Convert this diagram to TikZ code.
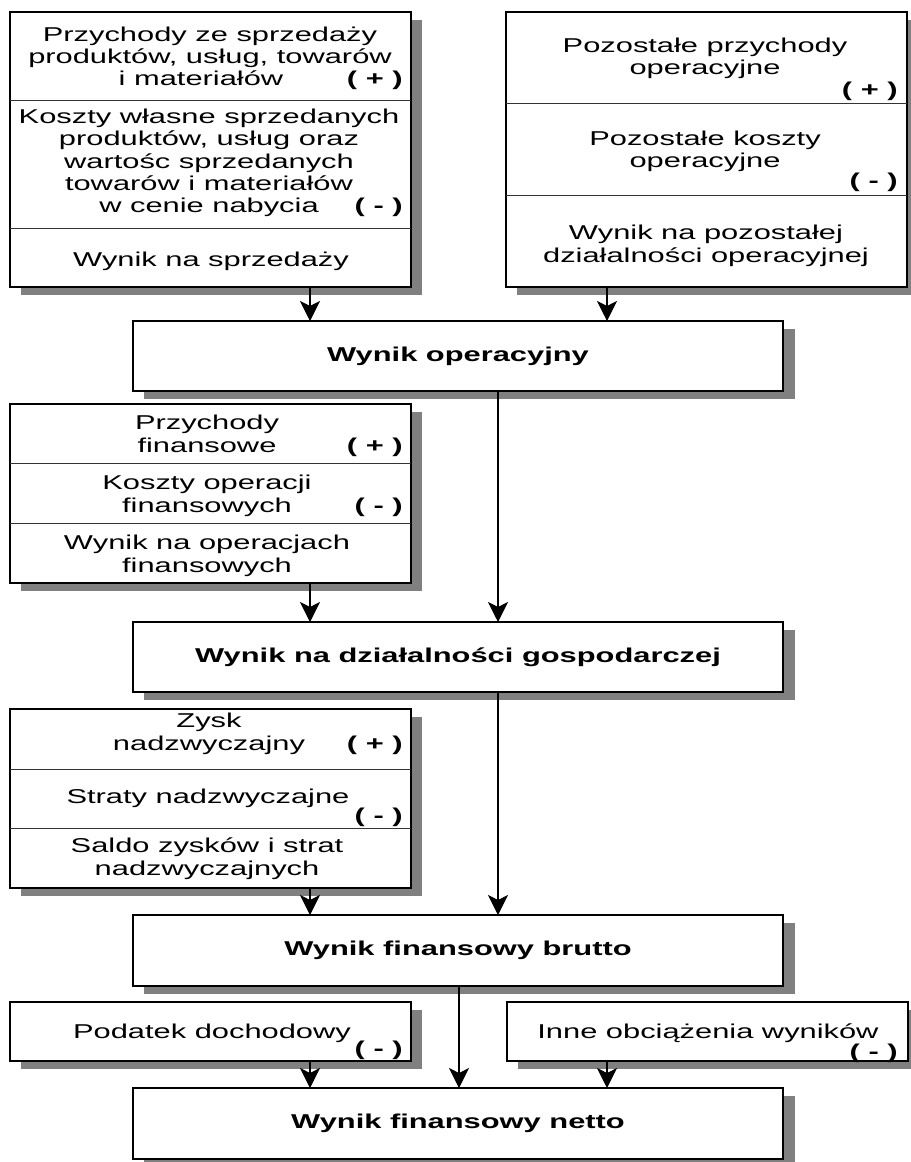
\documentclass[tikz,border=0pt]{standalone}
\usepackage{fontspec}
\setmainfont{Liberation Sans}[FakeStretch=1.54]
\usetikzlibrary{arrows.meta,shadows}
\newlength\pxl \setlength\pxl{0.02cm}
\definecolor{shade}{gray}{0.5}

\begin{document}
\begin{tikzpicture}[x=0.02cm,y=-0.02cm,
  panel/.style={draw=black, line width=0.6pt, fill=white, inner sep=0pt,
    outer sep=0pt, anchor=north west,
    drop shadow={shadow xshift=11\pxl, shadow yshift=-8\pxl, fill=shade, opacity=1}},
  result/.style={panel, line width=1.4pt,
    drop shadow={shadow xshift=12\pxl, shadow yshift=-8\pxl, fill=shade, opacity=1},
    font=\fontsize{11.4pt}{12.8pt}\selectfont\bfseries},
  divider/.style={line width=0.5pt, draw=black!80},
  % multi-line labels are anchored at the baseline of their last line
  txt/.style={font=\fontsize{11.4pt}{12.8pt}\selectfont, align=center, inner sep=0pt, anchor=base},
  sign/.style={font=\fontsize{11.4pt}{12.8pt}\selectfont\bfseries, inner sep=0pt, anchor=base east},
  arr/.style={line width=0.6pt, -{Stealth[length=0.4cm, width=0.4cm, inset=0.1cm]}}
]
\useasboundingbox (0,0) rectangle (911,1162);

% x positions of the vertical connectors
\coordinate (xl) at (310,0);
\coordinate (xr) at (607,0);
\coordinate (xm) at (498,0);
\coordinate (xn) at (459,0);

% --- sales result panel ---
\node[panel, minimum width=401\pxl, minimum height=275\pxl] (A) at (10,12) {};
\draw[divider] (A.west |- 0,100) -- (A.east |- 0,100);
\draw[divider] (A.west |- 0,228) -- (A.east |- 0,228);
\node[txt] (a1) at (210,86) {Przychody ze sprzedaży\\produktów, usług, towarów\\i materiałów\hspace*{0.9em}};
\node[sign] (a1s) at (403,86) {( + )};
\node[txt] (a2) at (209,213) {Koszty własne sprzedanych\\produktów, usług oraz\\wartośc sprzedanych\\towarów i materiałów\\w cenie nabycia};
\node[sign] (a2s) at (403,213) {( - )};
\node[txt] (a3) at (211,266) {Wynik na sprzedaży};

% --- other operating result panel ---
\node[panel, minimum width=401\pxl, minimum height=275\pxl] (B) at (506,12) {};
\draw[divider] (B.west |- 0,103) -- (B.east |- 0,103);
\draw[divider] (B.west |- 0,195) -- (B.east |- 0,195);
\node[txt] (b1) at (705,75) {Pozostałe przychody\\operacyjne};
\node[sign] (b1s) at (898,97) {( + )};
\node[txt] (b2) at (705,168) {Pozostałe koszty\\operacyjne};
\node[sign] (b2s) at (898,188) {( - )};
\node[txt] (b3) at (706,262) {Wynik na pozostałej\\działalności operacyjnej};

% --- operating result ---
\node[result, minimum width=650\pxl, minimum height=70\pxl] (op) at (133,321) {Wynik operacyjny};

% --- financial operations panel ---
\node[panel, minimum width=401\pxl, minimum height=179\pxl] (C) at (10,404) {};
\draw[divider] (C.west |- 0,463) -- (C.east |- 0,463);
\draw[divider] (C.west |- 0,523) -- (C.east |- 0,523);
\node[txt] (c1) at (207,452) {Przychody\\finansowe};
\node[sign] (c1s) at (403,452) {( + )};
\node[txt] (c2) at (207,512) {Koszty operacji\\finansowych};
\node[sign] (c2s) at (403,512) {( - )};
\node[txt] (c3) at (207,572) {Wynik na operacjach\\finansowych};

% --- business activity result ---
\node[result, minimum width=650\pxl, minimum height=70\pxl] (dz) at (133,622) {Wynik na działalności gospodarczej};

% --- extraordinary items panel ---
\node[panel, minimum width=401\pxl, minimum height=179\pxl] (D) at (10,709) {};
\draw[divider] (D.west |- 0,769) -- (D.east |- 0,769);
\draw[divider] (D.west |- 0,828) -- (D.east |- 0,828);
\node[txt] (d1) at (209,750) {Zysk\\nadzwyczajny};
\node[sign] (d1s) at (403,750) {( + )};
\node[txt] (d2) at (208,803) {Straty nadzwyczajne};
\node[sign] (d2s) at (403,822) {( - )};
\node[txt] (d3) at (207,875) {Saldo zysków i strat\\nadzwyczajnych};

% --- gross result ---
\node[result, minimum width=650\pxl, minimum height=71\pxl] (br) at (133,915) {Wynik finansowy brutto};

% --- deductions ---
\node[panel, minimum width=401\pxl, minimum height=59\pxl] (P) at (10,1002) {};
\node[txt] (p1) at (212,1038) {Podatek dochodowy};
\node[sign] (p1s) at (403,1055) {( - )};
\node[panel, minimum width=401\pxl, minimum height=59\pxl] (I) at (507,1002) {};
\node[txt] (i1) at (708,1038) {Inne obciążenia wyników};
\node[sign] (i1s) at (898,1058) {( - )};

% --- net result ---
\node[result, minimum width=650\pxl, minimum height=71\pxl] (nt) at (133,1088) {Wynik finansowy netto};

% --- connectors ---
\draw[arr] (A.south -| xl) -- (op.north -| xl);
\draw[arr] (B.south -| xr) -- (op.north -| xr);
\draw[arr] (op.south -| xm) -- (dz.north -| xm);
\draw[arr] (C.south -| xl) -- (dz.north -| xl);
\draw[arr] (dz.south -| xm) -- (br.north -| xm);
\draw[arr] (D.south -| xl) -- (br.north -| xl);
\draw[arr] (P.south -| xl) -- (nt.north -| xl);
\draw[arr] (br.south -| xn) -- (nt.north -| xn);
\draw[arr] (I.south -| xr) -- (nt.north -| xr);
\end{tikzpicture}
\end{document}
